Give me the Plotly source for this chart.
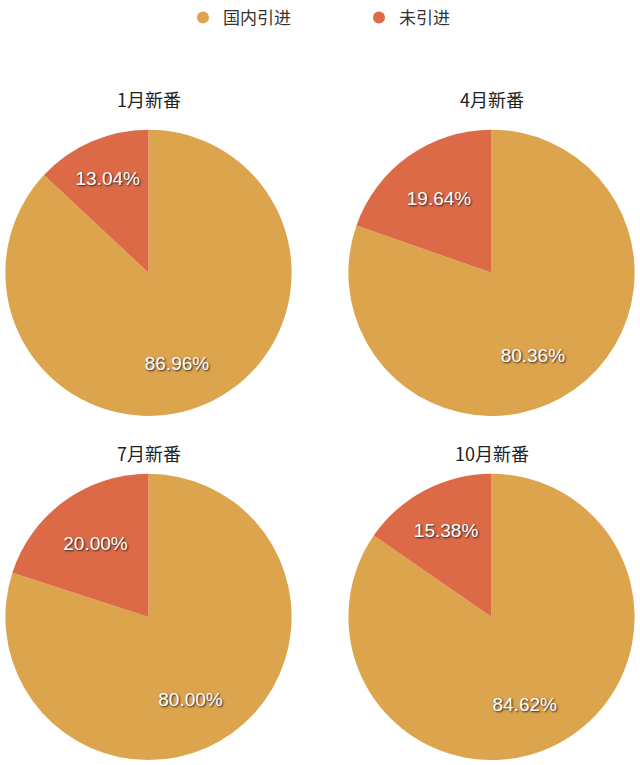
import plotly.graph_objects as go

categories = ["国内引进", "未引进"]
seasons = ["1月新番", "4月新番", "7月新番", "10月新番"]
values = [
    [86.96, 13.04],
    [80.36, 19.64],
    [80.00, 20.00],
    [84.62, 15.38],
]
colors = ["#DDA44E", "#DD6A47"]

W, H = 640, 765
# pie boxes in pixels: (left, top, size)
boxes = [(5, 128, 287), (348, 128, 287), (5, 473, 287), (348, 473, 287)]
title_y = [97, 97, 452, 452]

fig = go.Figure()
for i, (season, vals) in enumerate(zip(seasons, values)):
    l, t, s = boxes[i]
    fig.add_trace(go.Pie(
        labels=categories,
        values=vals,
        sort=False,
        direction="clockwise",
        rotation=0,
        marker=dict(colors=colors, line=dict(width=0)),
        # empty leading lines push the big-slice label further out, as in the source
        texttemplate=[" <br> <br>%{value:.2f}%", "%{value:.2f}%"],
        textposition="inside",
        insidetextorientation="horizontal",
        textfont=dict(color="white", size=19, family="Liberation Sans, Arial",
                      shadow="1px 1px 2px #222"),
        hoverinfo="label+value",
        showlegend=False,
        domain=dict(x=[l / W, (l + s) / W], y=[1 - (t + s) / H, 1 - t / H]),
    ))
    fig.add_annotation(
        text=season, x=(l + s / 2) / W, y=1 - title_y[i] / H,
        xref="paper", yref="paper", xanchor="center", yanchor="middle",
        showarrow=False,
        font=dict(size=18, color="#222222", family="Noto Sans CJK SC"),
    )

for name, c in zip(categories, colors):
    fig.add_trace(go.Scatter(
        x=[None], y=[None], mode="markers", name=name,
        marker=dict(symbol="circle", size=14, color=c),
    ))

fig.update_layout(
    width=W, height=H,
    margin=dict(l=0, r=0, t=0, b=0),
    paper_bgcolor="white", plot_bgcolor="white",
    xaxis=dict(visible=False), yaxis=dict(visible=False),
    legend=dict(orientation="h", x=183 / W, xanchor="left", y=1 + 2 / H, yanchor="top",
                font=dict(size=17, color="#333333", family="Noto Sans CJK SC"),
                itemsizing="constant", entrywidth=131, entrywidthmode="pixels"),
)

fig.write_html("out.html", config={"displayModeBar": False},
               post_script="document.body.style.margin='0';")
